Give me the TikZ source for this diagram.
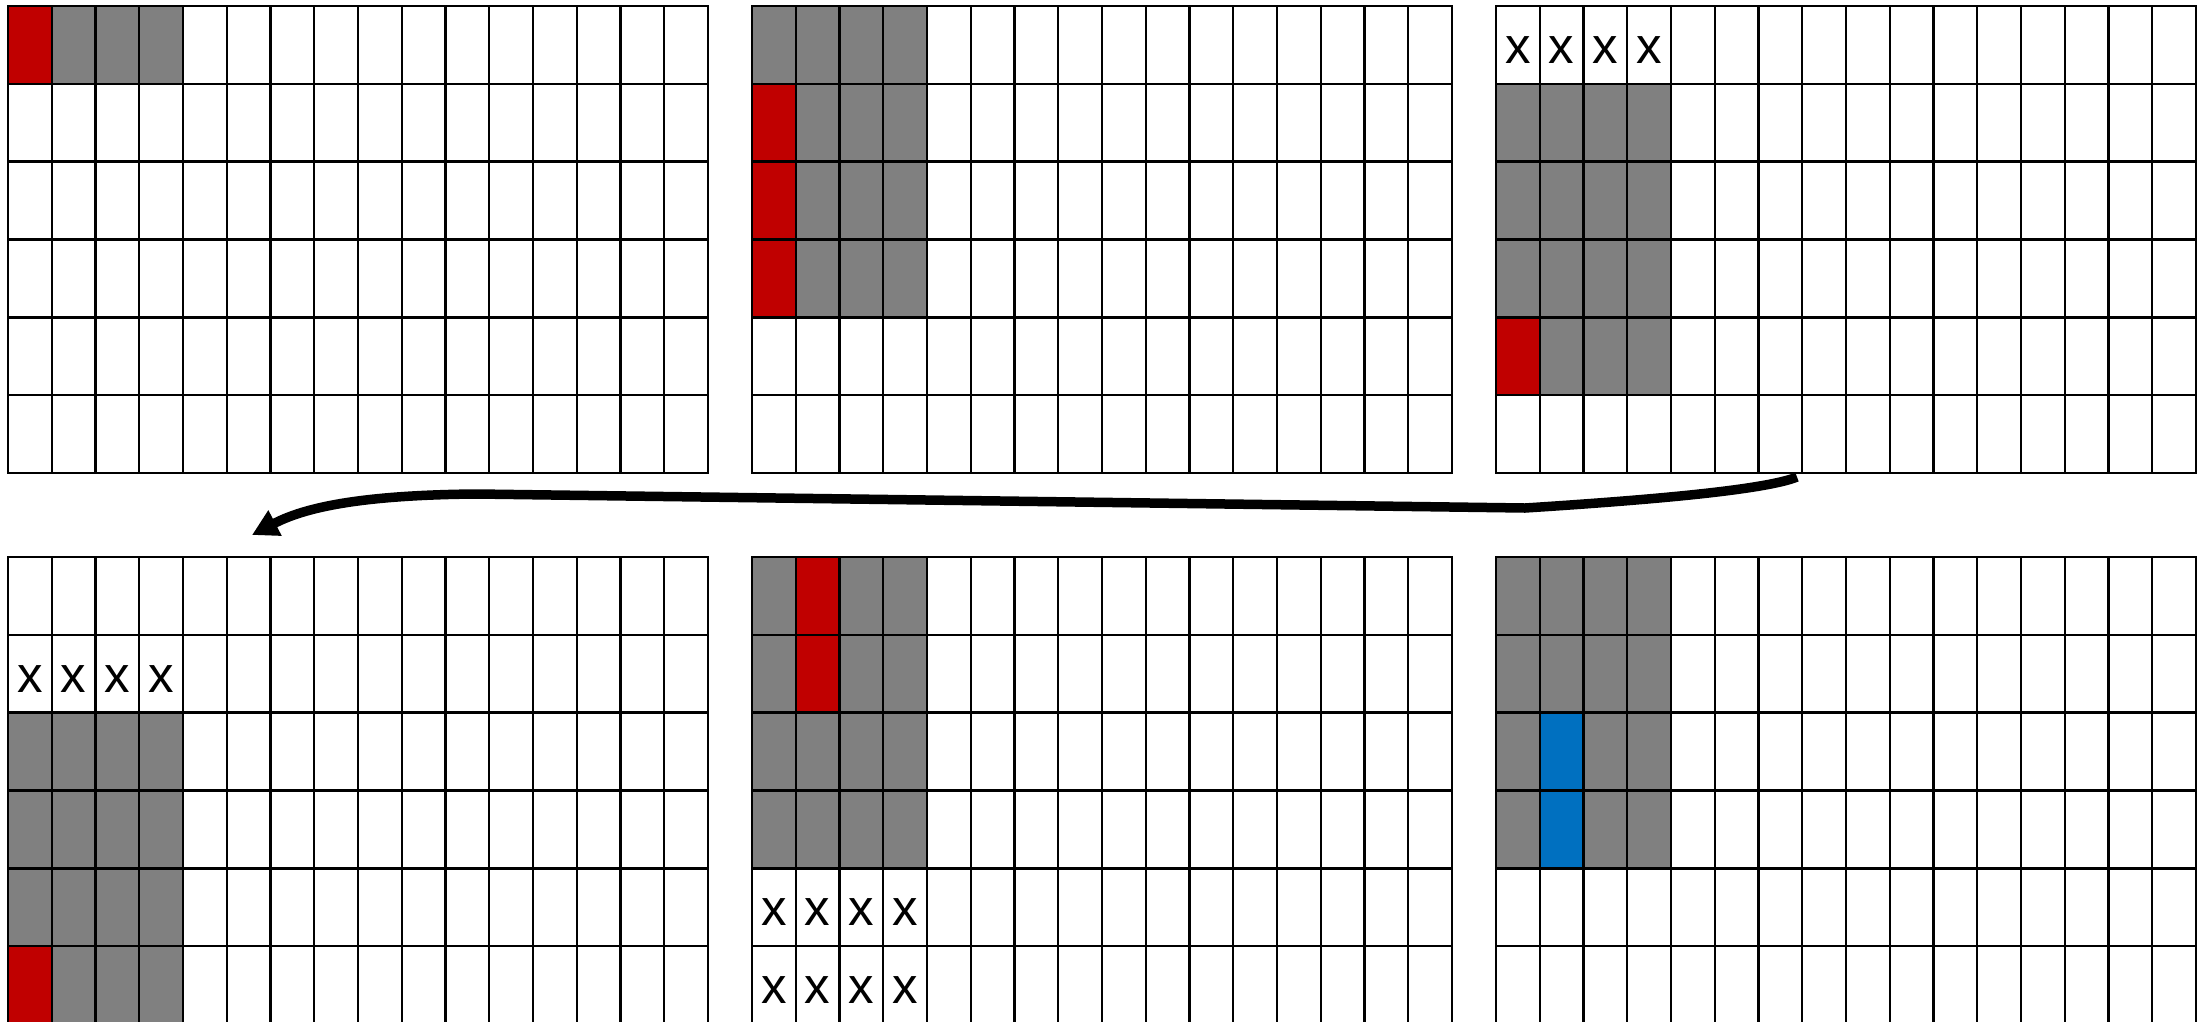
\documentclass[tikz,border=0pt]{standalone}
\usepackage{fontspec}
\setmainfont{Liberation Sans}
\usetikzlibrary{arrows.meta}
\definecolor{cred}{HTML}{C00000}
\definecolor{cgray}{HTML}{808080}
\definecolor{cblue}{HTML}{0070C0}
\tikzset{
  gridline/.style={line width=2.4pt,black},
  redcell/.style={fill=cred},
  graycell/.style={fill=cgray},
  bluecell/.style={fill=cblue},
  xmark/.style={inner sep=0pt,font=\fontsize{51}{60}\selectfont,yshift=-5pt},
  conn/.style={line width=9.5pt,black,-{Triangle[length=26pt,width=27pt]}},
  gridscope/.style={x=43.75pt,y=-77.83pt},
}
\newcommand\gridlines{%
  \foreach \i in {1,...,15} \draw[gridline] (\i,0) -- (\i,6);
  \foreach \j in {1,...,5} \draw[gridline] (0,\j) -- (16,\j);
  \draw[gridline] (0,0) rectangle (16,6);
}
\begin{document}
\begin{tikzpicture}[x=1pt,y=-1pt]
\useasboundingbox (0,0) rectangle (2197,1021);
\clip (0,0) rectangle (2197,1021);
\fill[white] (0,0) rectangle (2197,1021);

% Grid 1
\begin{scope}[shift={(8pt,-6pt)},gridscope]
  \fill[redcell] (0,0) rectangle (1,1);
  \fill[graycell] (1,0) rectangle (4,1);
  \gridlines
\end{scope}

% Grid 2
\begin{scope}[shift={(752pt,-6pt)},gridscope]
  \fill[graycell] (0,0) rectangle (4,4);
  \fill[redcell] (0,1) rectangle (1,4);
  \gridlines
\end{scope}

% Grid 3
\begin{scope}[shift={(1496pt,-6pt)},gridscope]
  \fill[graycell] (0,1) rectangle (4,5);
  \fill[redcell] (0,4) rectangle (1,5);
  \foreach \c in {0,...,3} \node[xmark] (g3x\c) at (\c+0.5,0.5) {x};
  \gridlines
\end{scope}

% Grid 4
\begin{scope}[shift={(8pt,-557pt)},gridscope]
  \fill[graycell] (0,2) rectangle (4,6);
  \fill[redcell] (0,5) rectangle (1,6);
  \foreach \c in {0,...,3} \node[xmark] (g4x\c) at (\c+0.5,1.5) {x};
  \gridlines
\end{scope}

% Grid 5
\begin{scope}[shift={(752pt,-557pt)},gridscope]
  \fill[graycell] (0,0) rectangle (4,4);
  \fill[redcell] (1,0) rectangle (2,2);
  \foreach \c in {0,...,3} {
    \node[xmark] (g5xa\c) at (\c+0.5,4.5) {x};
    \node[xmark] (g5xb\c) at (\c+0.5,5.5) {x};
  }
  \gridlines
\end{scope}

% Grid 6
\begin{scope}[shift={(1496pt,-557pt)},gridscope]
  \fill[graycell] (0,0) rectangle (4,4);
  \fill[bluecell] (1,2) rectangle (2,4);
  \gridlines
\end{scope}

% Connector
\coordinate (arrowstart) at (1797,477);
\coordinate (bendR) at (1525,508);
\coordinate (bendL) at (477,494);
\coordinate (arrowend) at (252,535);
\draw[conn] (arrowstart) .. controls (1765,490) and (1650,500) .. (bendR)
  -- (bendL) .. controls (350,495) and (300,510) .. (arrowend);
\end{tikzpicture}
\end{document}
